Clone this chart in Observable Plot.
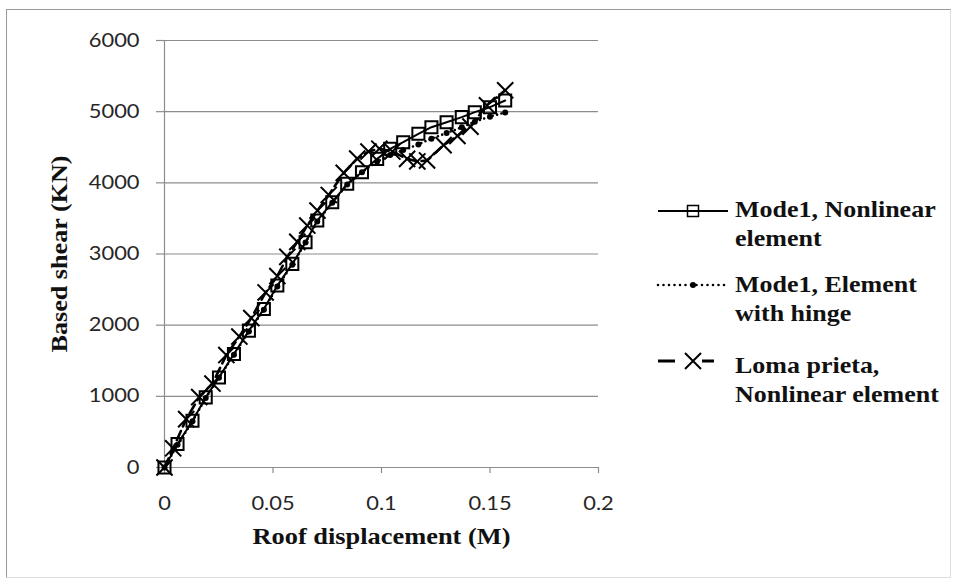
<!DOCTYPE html>
<html><head><meta charset="utf-8">
<script src="https://cdn.jsdelivr.net/npm/d3@7"></script>
<script src="https://cdn.jsdelivr.net/npm/@observablehq/plot@0.6"></script>
<style>
html,body{margin:0;padding:0;background:#fff;}
#wrap{position:relative;width:958px;height:582px;overflow:hidden;background:#fff;}
#frame{position:absolute;left:6px;top:9px;width:943px;height:567px;border-top:1px solid #9a9a9a;border-left:1px solid #9a9a9a;border-right:1px solid #dedede;border-bottom:1px solid #dedede;pointer-events:none;}
#legend{position:absolute;left:0;top:0;pointer-events:none;}
</style></head><body><div id="wrap"></div>
<script>
// ---- data ----
const xTicks = [0, 0.05, 0.1, 0.15, 0.2];
const xTickLabels = ["0", "0.05", "0.1", "0.15", "0.2"];
const yTicks = [0, 1000, 2000, 3000, 4000, 5000, 6000];
const yTickLabels = ["0", "1000", "2000", "3000", "4000", "5000", "6000"];

const xTitle = "Roof displacement (M)";
const yTitle = "Based shear (KN)";
const seriesNames = ["Mode1, Nonlinear element", "Mode1, Element with hinge", "Loma prieta, Nonlinear element"];
const legendLines = [["Mode1, Nonlinear", "element"], ["Mode1, Element", "with hinge"], ["Loma prieta,", "Nonlinear element"]];

const mode1X = [0, 0.006, 0.0129, 0.019, 0.0251, 0.032, 0.0389, 0.0458, 0.052, 0.0589, 0.065, 0.0704, 0.0773, 0.0842, 0.091, 0.098, 0.104, 0.110, 0.117, 0.123, 0.130, 0.137, 0.143, 0.150, 0.157];
const mode1Y = [0, 329, 657, 985, 1266, 1595, 1923, 2228, 2556, 2861, 3165, 3470, 3727, 3986, 4149, 4337, 4478, 4571, 4689, 4782, 4852, 4923, 4993, 5063, 5157];

const hingeX = [0, 0.006, 0.0129, 0.019, 0.0251, 0.032, 0.0389, 0.0458, 0.052, 0.0589, 0.065, 0.0704, 0.0773, 0.0842, 0.091, 0.098, 0.104, 0.110, 0.117, 0.123, 0.130, 0.137, 0.143, 0.150, 0.157];
const hingeY = [0, 320, 650, 975, 1260, 1585, 1910, 2215, 2545, 2850, 3160, 3455, 3720, 3975, 4150, 4300, 4390, 4460, 4540, 4620, 4700, 4780, 4860, 4930, 4990];

const lomaX = [0, 0.0040, 0.0100, 0.0160, 0.0221, 0.0285, 0.0345, 0.0400, 0.0466, 0.0520, 0.0566, 0.0612, 0.0658, 0.0705, 0.0757, 0.0826, 0.0888, 0.0940, 0.0990, 0.1050, 0.1118, 0.1165, 0.1210, 0.1286, 0.1350, 0.1410, 0.1486, 0.1570];
const lomaY = [0, 270, 680, 990, 1180, 1580, 1840, 2100, 2460, 2690, 2960, 3170, 3400, 3610, 3830, 4140, 4340, 4440, 4480, 4440, 4337, 4300, 4314, 4530, 4660, 4790, 5090, 5300];

// ---- tables ----
const toRows = (xs, ys) => xs.map((x, i) => ({x, y: ys[i]}));
const mode1 = toRows(mode1X, mode1Y);
const hinge = toRows(hingeX, hingeY);
const loma = toRows(lomaX, lomaY);

const gridColor = "#8c8c8c";
const labelColor = "#262626";
const serif = "'Liberation Serif', 'Times New Roman', Times, serif";

const chart = Plot.plot({
  width: 958,
  height: 582,
  marginLeft: 164,
  marginRight: 360,
  marginTop: 40,
  marginBottom: 115,
  style: {fontFamily: "Lato, 'Open Sans', sans-serif", fontSize: "19px", background: "transparent", color: labelColor},
  x: {domain: [0, 0.2]},
  y: {domain: [0, 6000]},
  marks: [
    Plot.gridY(yTicks, {stroke: gridColor, strokeOpacity: 1, strokeWidth: 1.2}),
    Plot.axisY(yTicks, {tickSize: 8, tickPadding: 17, stroke: gridColor, strokeWidth: 1.2, fill: labelColor, tickFormat: (d, i) => yTickLabels[i], label: null}),
    Plot.axisX(xTicks, {tickSize: 6, tickPadding: 23, stroke: gridColor, strokeWidth: 1.2, fill: labelColor, tickFormat: (d, i) => xTickLabels[i], label: null}),
    Plot.ruleX([0], {stroke: gridColor, strokeWidth: 1.2}),
    Plot.ruleY([0], {stroke: gridColor, strokeWidth: 1.2}),
    // series 1
    Plot.line(mode1, {x: "x", y: "y", stroke: "#000", strokeWidth: 2}),
    Plot.dot(mode1, {x: "x", y: "y", symbol: "square", r: 6.8, stroke: "#000", strokeWidth: 2, fill: "none"}),
    // series 2
    Plot.line(hinge, {x: "x", y: "y", stroke: "#000", strokeWidth: 2.6, strokeDasharray: "0,4.5", strokeLinecap: "round"}),
    Plot.dot(hinge, {x: "x", y: "y", r: 3, fill: "#000", stroke: "none"}),
    // series 3
    Plot.line(loma, {x: "x", y: "y", stroke: "#000", strokeWidth: 2.6, strokeDasharray: "10,5"}),
    Plot.dot(loma, {x: "x", y: "y", symbol: "times", r: 7.4, stroke: "#000", strokeWidth: 2}),
    // axis titles
    Plot.text([xTitle], {frameAnchor: "bottom", dy: 69, lineAnchor: "middle", textAnchor: "middle", fontFamily: serif, fontWeight: "bold", fontSize: 23, fill: "#111"}),
    Plot.text([yTitle], {frameAnchor: "left", dx: -105, rotate: -90, lineAnchor: "middle", textAnchor: "middle", fontFamily: serif, fontWeight: "bold", fontSize: 24, fill: "#111"})
  ]
});

const wrap = document.getElementById("wrap");
wrap.appendChild(chart);

// ---- legend ----
const leg = d3.select(wrap).append("svg").attr("id", "legend").attr("width", 958).attr("height", 582);
const swY = [211, 285, 361];
const baseY = [217, 292, 372.5];
const lh = 29;
const sx0 = 658, sx1 = 728, sm = 693;
// swatch 1
leg.append("line").attr("x1", sx0).attr("x2", sx1).attr("y1", swY[0]).attr("y2", swY[0]).attr("stroke", "#000").attr("stroke-width", 2);
leg.append("rect").attr("x", sm - 5.5).attr("y", swY[0] - 5.5).attr("width", 11).attr("height", 11).attr("fill", "none").attr("stroke", "#000").attr("stroke-width", 1.5);
// swatch 2
leg.append("line").attr("x1", sx0).attr("x2", sx1).attr("y1", swY[1]).attr("y2", swY[1]).attr("stroke", "#000").attr("stroke-width", 2.6).attr("stroke-dasharray", "0,5.5").attr("stroke-linecap", "round");
leg.append("circle").attr("cx", sm).attr("cy", swY[1]).attr("r", 3).attr("fill", "#000");
// swatch 3
leg.append("line").attr("x1", sx0).attr("x2", sx1).attr("y1", swY[2]).attr("y2", swY[2]).attr("stroke", "#000").attr("stroke-width", 3).attr("stroke-dasharray", "17,27,12,40");
leg.append("path").attr("d", `M${sm-8},${swY[2]-8}L${sm+8},${swY[2]+8}M${sm-8},${swY[2]+8}L${sm+8},${swY[2]-8}`).attr("stroke", "#000").attr("stroke-width", 2);

legendLines.forEach((lines, i) => {
  lines.forEach((t, j) => {
    leg.append("text").attr("x", 735).attr("y", baseY[i] + j * lh)
      .attr("font-family", serif)
      .attr("font-weight", "bold").attr("font-size", 23).attr("fill", "#111")
      .attr("class", "stretch").text(t);
  });
});

// horizontal stretch of text (reference image is widened)
function stretchTo(el, len) {
  el.setAttribute("textLength", len.toFixed(2));
  el.setAttribute("lengthAdjust", "spacingAndGlyphs");
}
d3.select(chart).selectAll("text").each(function() {
  const t = this.textContent;
  if (t === yTitle) stretchTo(this, 197);
  else if (t === xTitle) stretchTo(this, 258);
  else stretchTo(this, this.getComputedTextLength() * 1.15);
});
leg.selectAll("text.stretch").each(function() { stretchTo(this, this.getComputedTextLength() * 1.13); });

d3.select(wrap).append("div").attr("id", "frame");
</script>
</body></html>
